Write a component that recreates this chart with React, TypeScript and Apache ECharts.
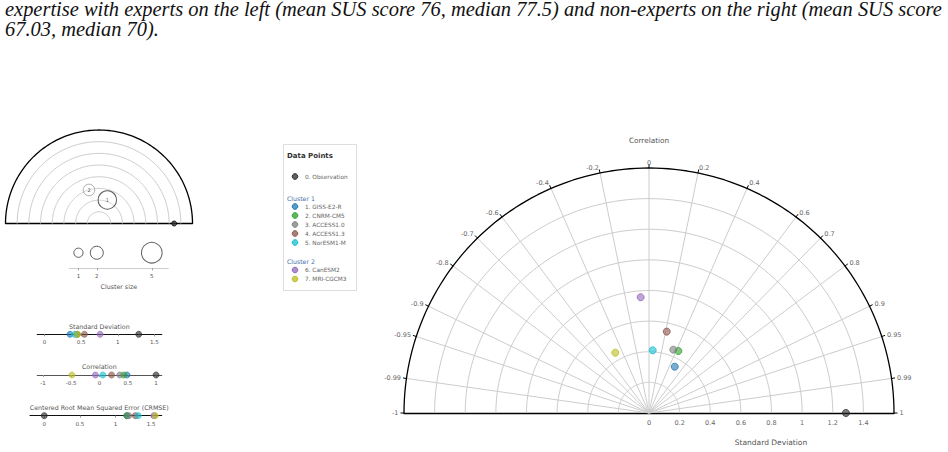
import React, { useEffect, useRef } from "react";
import * as echarts from "echarts";

// ---------------- data ----------------
const captionLines = [
  "expertise with experts on the left (mean SUS score 76, median 77.5) and non-experts on the right (mean SUS score",
  "67.03, median 70).",
];

const modelNames = [
  "0. Observation",
  "1. GISS-E2-R",
  "2. CNRM-CM5",
  "3. ACCESS1.0",
  "4. ACCESS1.3",
  "5. NorESM1-M",
  "6. CanESM2",
  "7. MRI-CGCM3",
];
const modelColors = ["#2a2a2a", "#1f77b4", "#2ca02c", "#7f7f7f", "#8c564b", "#17becf", "#9467bd", "#bcbd22"];
const modelCluster = [0, 1, 1, 1, 1, 1, 2, 2];
const stdDevs = [1.286, 0.346, 0.448, 0.443, 0.544, 0.41, 0.758, 0.451];
const correlations = [1, 0.486, 0.428, 0.358, 0.213, 0.059, -0.072, -0.488];
const crmseValues = [0, 1.16, 1.16, 1.19, 1.28, 1.32, 1.54, 1.56];

const clusterLabels = ["1", "2"];
const clusterStd = [0.427, 0.599];
const clusterCorr = [0.333, -0.286];
const clusterSizes = [5, 2];
const clusterSizeLegend = [1, 2, 5];

const stdGridLevels = [0.2, 0.4, 0.6, 0.8, 1.0, 1.2, 1.4];
const stdMax = 1.6;
const corrTickValues = [-1, -0.99, -0.95, -0.9, -0.8, -0.7, -0.6, -0.4, -0.2, 0, 0.2, 0.4, 0.6, 0.7, 0.8, 0.9, 0.95, 0.99, 1];
const stdAxisLabels = [0, 0.2, 0.4, 0.6, 0.8, 1, 1.2, 1.4];
const stripStdLabels = [0, 0.5, 1, 1.5];
const stripCorrLabels = [-1, -0.5, 0, 0.5, 1];
const stripCrmseLabels = [0, 0.5, 1, 1.5];

// ---------------- helpers ----------------
const FONT = "DejaVu Sans";
const GRID_GRAY = "#cccccc";

function toXY(s: number, r: number): number[] {
  const t = Math.acos(Math.max(-1, Math.min(1, r)));
  return [s * Math.cos(t), s * Math.sin(t)];
}
function arc(s: number): number[][] {
  const pts: number[][] = [];
  for (let a = 0; a <= 180; a += 1.5) {
    const t = (a * Math.PI) / 180;
    pts.push([s * Math.cos(t), s * Math.sin(t)]);
  }
  return pts;
}
function rgba(hex: string, a: number): string {
  const n = parseInt(hex.slice(1), 16);
  return `rgba(${(n >> 16) & 255},${(n >> 8) & 255},${n & 255},${a})`;
}
function txt(x: number, y: number, text: string, size: number, fill: string, align = "center", extra: any = {}) {
  return {
    type: "text",
    x,
    y,
    silent: true,
    style: {
      text,
      fill,
      fontSize: size,
      fontFamily: FONT,
      align,
      textAlign: align,
      verticalAlign: "middle",
      textVerticalAlign: "middle",
      ...extra,
    },
  };
}

export default function App() {
  const ref = useRef<HTMLDivElement>(null);

  useEffect(() => {
    if (!ref.current) return;
    const chart = echarts.init(ref.current, null, { renderer: "svg" });

    const series: any[] = [];
    const addLine = (g: number, data: number[][], color: string, width: number, z: number) =>
      series.push({
        type: "line",
        xAxisIndex: g,
        yAxisIndex: g,
        data,
        symbol: "none",
        showSymbol: false,
        lineStyle: { color, width },
        silent: true,
        clip: false,
        z,
      });

    // main Taylor diagram grid
    stdGridLevels.forEach((s) => addLine(0, arc(s), GRID_GRAY, 1, 1));
    corrTickValues
      .filter((c) => Math.abs(c) < 1)
      .forEach((c) => addLine(0, [[0, 0], toXY(stdMax, c)], GRID_GRAY, 1, 1));
    addLine(0, arc(stdMax), "#000000", 1.3, 3);

    // correlation ticks + labels
    series.push({
      type: "custom",
      xAxisIndex: 0,
      yAxisIndex: 0,
      data: corrTickValues.map((c) => [c]),
      clip: false,
      silent: true,
      z: 4,
      itemStyle: { color: "#666666" },
      renderItem: (params: any, api: any) => {
        const c = api.value(0);
        const th = Math.acos(c);
        const p = api.coord(toXY(stdMax, c));
        const dx = Math.cos(th);
        const dy = -Math.sin(th);
        const align = c > 0.001 ? "left" : c < -0.001 ? "right" : "center";
        return {
          type: "group",
          children: [
            {
              type: "line",
              shape: { x1: p[0], y1: p[1], x2: p[0] + dx * 3.5, y2: p[1] + dy * 3.5 },
              style: { stroke: "#000", lineWidth: 1 },
            },
            {
              type: "text",
              x: p[0] + dx * 5.5,
              y: p[1] + dy * 5.5,
              style: {
                text: String(c),
                fill: "#666666",
                fontSize: 6.5,
                fontFamily: FONT,
                align,
                verticalAlign: "middle",
              },
            },
          ],
        };
      },
    });

    // main points
    series.push({
      type: "scatter",
      xAxisIndex: 0,
      yAxisIndex: 0,
      symbolSize: 7,
      clip: false,
      z: 10,
      data: stdDevs.map((s, i) => ({
        value: toXY(s, correlations[i]),
        name: modelNames[i],
        itemStyle: { color: rgba(modelColors[i], 0.75), borderColor: modelColors[i], borderWidth: 1 },
      })),
    });

    // cluster Taylor diagram
    stdGridLevels.forEach((s) => addLine(1, arc(s), GRID_GRAY, 1, 1));
    addLine(1, arc(stdMax), "#000000", 1.3, 3);
    series.push({
      type: "scatter",
      xAxisIndex: 1,
      yAxisIndex: 1,
      clip: false,
      z: 10,
      data: clusterStd.map((s, i) => ({
        value: toXY(s, clusterCorr[i]),
        symbolSize: 8.2 * Math.sqrt(clusterSizes[i]),
        label: { show: true, formatter: clusterLabels[i], fontSize: 5, color: "#333", fontFamily: FONT },
        itemStyle: {
          color: "rgba(255,255,255,0.2)",
          borderColor: clusterSizes[i] > 2 ? "#333333" : "#9a9a9a",
          borderWidth: 1,
        },
      })),
    });
    series.push({
      type: "scatter",
      xAxisIndex: 1,
      yAxisIndex: 1,
      clip: false,
      z: 11,
      symbolSize: 5,
      data: [{ value: toXY(stdDevs[0], correlations[0]), itemStyle: { color: "#333", borderColor: "#000" } }],
    });

    // cluster size legend
    series.push({
      type: "scatter",
      xAxisIndex: 2,
      yAxisIndex: 2,
      clip: false,
      data: clusterSizeLegend.map((n) => ({
        value: [n, 0.55],
        symbolSize: 9.2 * Math.sqrt(n),
        itemStyle: { color: "rgba(255,255,255,0)", borderColor: "#333", borderWidth: 1 },
      })),
    });

    // 1-D strips
    const strip = (g: number, vals: number[]) =>
      series.push({
        type: "scatter",
        xAxisIndex: g,
        yAxisIndex: g,
        clip: false,
        z: 10,
        symbolSize: 6,
        data: vals.map((v, i) => ({
          value: [v, 0],
          itemStyle: { color: rgba(modelColors[i], 0.8), borderColor: modelColors[i], borderWidth: 0.8 },
        })),
      });
    strip(3, stdDevs);
    strip(4, correlations);
    strip(5, crmseValues);

    const hiddenY = (min: number, max: number, gi: number) => ({
      type: "value",
      gridIndex: gi,
      min,
      max,
      show: false,
    });
    const stripX = (gi: number, min: number, max: number, labels: number[], lineColor: string) => ({
      type: "value",
      gridIndex: gi,
      min,
      max,
      axisLine: { show: true, onZero: false, lineStyle: { color: lineColor, width: 1.2 } },
      axisTick: { show: true, customValues: labels, length: 2, lineStyle: { color: "#999" } },
      axisLabel: { show: true, customValues: labels, fontSize: 5.5, color: "#555", margin: 5, fontFamily: FONT },
      splitLine: { show: false },
    });

    // legend box graphics
    const legendEls: any[] = [];
    legendEls.push({
      type: "rect",
      shape: { x: 283.5, y: 144.5, width: 73, height: 146 },
      style: { fill: "#fff", stroke: "#dddddd", lineWidth: 1 },
      silent: true,
      z: 0,
    });
    legendEls.push(txt(287, 156, "Data Points", 7, "#333", "left", { fontWeight: "bold" }));
    let y = 176.5;
    let lastCluster = 0;
    modelNames.forEach((name, i) => {
      const cl = modelCluster[i];
      if (cl !== lastCluster) {
        y += cl === 1 ? 21.5 : 19;
        legendEls.push(txt(287, y, "Cluster " + cl, 6.2, "#4a70a8", "left"));
        y += 8.5;
        lastCluster = cl;
      } else if (i > 0) {
        y += 9;
      }
      legendEls.push({
        type: "circle",
        shape: { cx: 295, cy: y, r: 2.8 },
        style: { fill: rgba(modelColors[i], 0.75), stroke: modelColors[i], lineWidth: 1 },
        silent: true,
        z: 1,
      });
      legendEls.push(txt(305, y, name, 5.8, "#666", "left"));
    });

    // caption measure
    const CAP_SIZE = 20;
    let capScale = 1;
    try {
      const cv = document.createElement("canvas").getContext("2d");
      if (cv) {
        cv.font = `italic ${CAP_SIZE}px 'Liberation Serif'`;
        const w = cv.measureText(captionLines[0]).width;
        if (w > 0) capScale = 937 / w;
      }
    } catch (e) {}

    const captionEls = captionLines.map((line, i) => ({
      type: "text",
      x: 5,
      y: 9.5 + i * 19.5,
      scaleX: capScale,
      silent: true,
      style: {
        text: line,
        fill: "#111",
        fontSize: CAP_SIZE,
        fontStyle: "italic",
        fontFamily: "Liberation Serif",
        align: "left",
        textAlign: "left",
        verticalAlign: "middle",
        textVerticalAlign: "middle",
      },
    }));

    const option: any = {
      animation: false,
      textStyle: { fontFamily: FONT },
      grid: [
        { left: 404, top: 168, width: 490, height: 245 },
        { left: 5.5, top: 130, width: 187, height: 93.5 },
        { left: 69.3, top: 240, width: 99, height: 28.3 },
        { left: 37.3, top: 324.3, width: 124.4, height: 10 },
        { left: 37.3, top: 365, width: 124.4, height: 10 },
        { left: 30, top: 405.7, width: 131.7, height: 10 },
      ],
      xAxis: [
        {
          type: "value",
          gridIndex: 0,
          min: -stdMax,
          max: stdMax,
          axisLine: { show: true, onZero: false, lineStyle: { color: "#000", width: 1.3 } },
          axisTick: { show: false },
          axisLabel: { show: true, customValues: stdAxisLabels, fontSize: 6.5, color: "#666", margin: 6, fontFamily: FONT },
          splitLine: { show: false },
        },
        {
          type: "value",
          gridIndex: 1,
          min: -stdMax,
          max: stdMax,
          axisLine: { show: true, onZero: false, lineStyle: { color: "#000", width: 1.3 } },
          axisTick: { show: false },
          axisLabel: { show: false },
          splitLine: { show: false },
        },
        {
          type: "value",
          gridIndex: 2,
          min: 0.5,
          max: 5.9,
          name: "Cluster size",
          nameLocation: "middle",
          nameGap: 15.5,
          nameTextStyle: { fontSize: 6.3, color: "#555", fontFamily: FONT },
          axisLine: { show: true, onZero: false, lineStyle: { color: "#cccccc", width: 1 } },
          axisTick: { show: true, customValues: clusterSizeLegend, length: 2, lineStyle: { color: "#999" } },
          axisLabel: { show: true, customValues: clusterSizeLegend, fontSize: 5.5, color: "#555", margin: 5, fontFamily: FONT },
          splitLine: { show: false },
        },
        stripX(3, -0.1, 1.6, stripStdLabels, "#111"),
        stripX(4, -1.1, 1.1, stripCorrLabels, "#555"),
        stripX(5, -0.2, 1.65, stripCrmseLabels, "#111"),
      ],
      yAxis: [
        hiddenY(0, stdMax, 0),
        hiddenY(0, stdMax, 1),
        hiddenY(0, 1, 2),
        hiddenY(0, 1, 3),
        hiddenY(0, 1, 4),
        hiddenY(0, 1, 5),
      ],
      series,
      graphic: {
        elements: [
          ...captionEls,
          txt(649, 140, "Correlation", 7.3, "#555"),
          txt(771, 442, "Standard Deviation", 7.5, "#555"),
          txt(99.3, 326.7, "Standard Deviation", 6.3, "#555"),
          txt(99.3, 366.7, "Correlation", 6.3, "#555"),
          txt(99.3, 407.3, "Centered Root Mean Squared Error (CRMSE)", 6.3, "#555"),
          ...legendEls,
        ],
      },
    };

    chart.setOption(option);
    return () => chart.dispose();
  }, []);

  return (
    <div
      ref={ref}
      style={{ position: "absolute", left: 0, top: 0, width: 948, height: 452, background: "#fff" }}
    />
  );
}
